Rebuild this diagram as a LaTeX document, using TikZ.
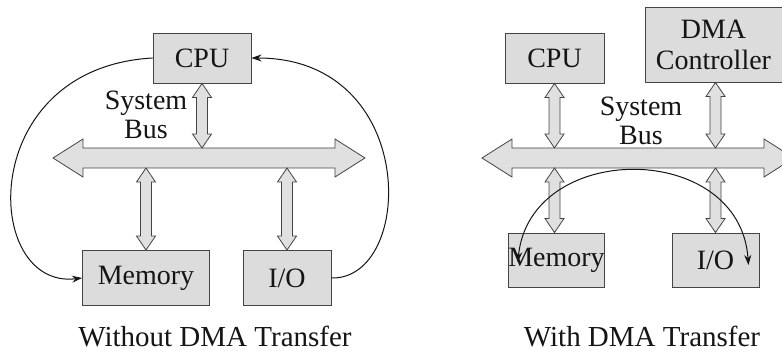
\documentclass[tikz,border=0pt]{standalone}
\usepackage{fontspec}
\setmainfont{Liberation Serif}
\usetikzlibrary{arrows.meta,calc}
\definecolor{boxfill}{HTML}{DCDCDC}
\definecolor{busfill}{HTML}{E0E0E0}
\definecolor{edge}{HTML}{444444}
\definecolor{ink}{HTML}{151515}
\newcommand\vbus[2]{%
 \draw[busarrow] let \p1=(#1), \p2=(#2) in
 (\x1,\y1) -- (\x1+9.5pt,\y1-14pt) -- (\x1+5.5pt,\y1-14pt) -- (\x1+5.5pt,\y2+14pt)
 -- (\x1+9.5pt,\y2+14pt) -- (\x1,\y2) -- (\x1-9.5pt,\y2+14pt) -- (\x1-5.5pt,\y2+14pt)
 -- (\x1-5.5pt,\y1-14pt) -- (\x1-9.5pt,\y1-14pt) -- cycle;}
\newcommand\hbus[2]{%
 \draw[busarrow] let \p1=(#1), \p2=(#2) in
 (\x1,\y1) -- (\x1+30pt,\y1+19pt) -- (\x1+30pt,\y1+10pt) -- (\x2-30pt,\y1+10pt)
 -- (\x2-30pt,\y1+19pt) -- (\x2,\y1) -- (\x2-30pt,\y1-19pt) -- (\x2-30pt,\y1-10pt)
 -- (\x1+30pt,\y1-10pt) -- (\x1+30pt,\y1-19pt) -- cycle;}
\begin{document}
\begin{tikzpicture}[x=1pt,y=-1pt,
  box/.style={draw=edge, fill=boxfill, line width=0.9pt, text=ink, inner sep=0pt,
    font=\fontsize{28}{31}\selectfont, align=center},
  busarrow/.style={draw=edge, fill=busfill, line width=0.8pt, line join=miter},
  tip/.tip={Stealth[length=10pt,width=7pt]},
  flow/.style={draw=ink, line width=1pt, -tip},
  lbl/.style={text=ink, font=\fontsize{28}{29.5}\selectfont, align=center, inner sep=0pt},
  captiontext/.style={text=ink, font=\fontsize{29}{32}\selectfont, inner sep=0pt, anchor=base}]
\clip (0,0) rectangle (782,352);
\fill[white] (0,0) rectangle (782,352);

% ---------- Left: without DMA ----------
\node[box, minimum width=98pt, minimum height=50pt] (cpu) at (202,58) {CPU};
\node[box, minimum width=127pt, minimum height=55pt] (mem) at (146,278) {Memory};
\node[box, minimum width=88pt, minimum height=55pt] (io) at (287,278) {I/O};
\coordinate (b1l) at (53,158);
\coordinate (b1r) at (365,158);
\coordinate (b1n) at (202,148);
\coordinate (b1s) at (202,168);
\hbus{b1l}{b1r}
\vbus{cpu.south}{cpu.south |- b1n}
\vbus{mem.north |- b1s}{mem.north}
\vbus{io.north |- b1s}{io.north}
\node[lbl] (sb1) at (146,115) {System\\Bus};
\draw[flow] (cpu.west) .. controls (-25,68) and (-18,290) .. (mem.west);
\draw[flow] (io.east) .. controls (415,280) and (420,58) .. (cpu.east);
\node[captiontext] (c1) at (215,347) {Without DMA Transfer};

% ---------- Right: with DMA ----------
\node[box, minimum width=99pt, minimum height=50pt] (cpu2) at (554.5,58) {CPU};
\node[box, minimum width=137pt, minimum height=75pt] (dma) at (713.5,44.5) {DMA\\Controller};
\node[box, minimum width=93pt, minimum height=54pt] (mem2) at (556.5,260) {Memory};
\node[box, minimum width=87pt, minimum height=54pt] (io2) at (715.5,260) {I/O};
\coordinate (b2l) at (482,158);
\coordinate (b2r) at (794,158);
\coordinate (b2n) at (554,148);
\coordinate (b2s) at (554,168);
\hbus{b2l}{b2r}
\vbus{cpu2.south}{cpu2.south |- b2n}
\vbus{cpu2.south |- b2s}{cpu2.south |- mem2.north}
\vbus{dma.south -| io2.north}{io2.north |- b2n}
\vbus{io2.north |- b2s}{io2.north}
\node[lbl] (sb2) at (641,121) {System\\Bus};
\coordinate (tm) at ($(mem2.west)+(10,2)$);
\coordinate (ti) at ($(io2.east)+(-11,5)$);
\draw[flow, tip-tip] (tm) .. controls (530,140) and (740,140) .. (ti);
\node[captiontext] (c2) at (642,347) {With DMA Transfer};
\end{tikzpicture}
\end{document}
